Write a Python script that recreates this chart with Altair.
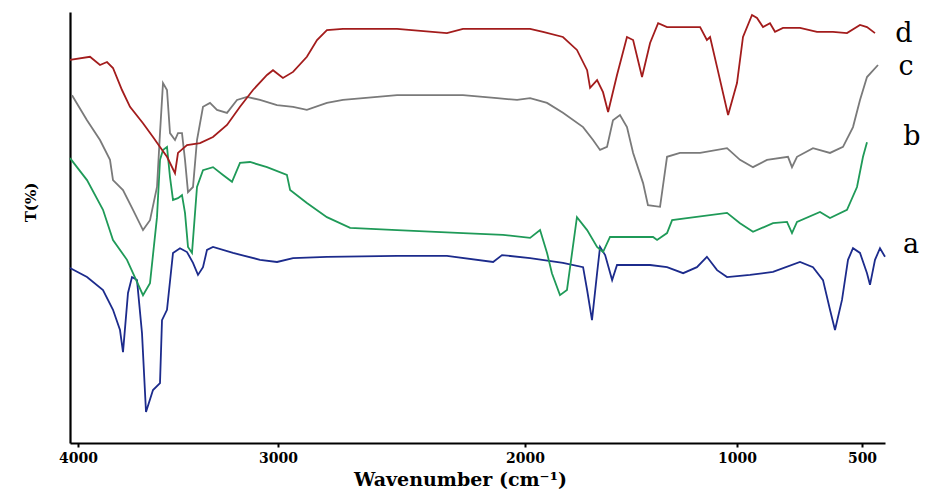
import altair as alt
import pandas as pd

# ---- data (wavenumber in cm-1, transmittance in arbitrary %) ----
wn_d = [4040, 3940, 3890, 3855, 3825, 3780, 3740, 3675, 3625, 3590, 3555, 3515, 3500, 3455, 3390,
        3325, 3255, 3190, 3125, 3055, 3025, 2980, 2939, 2883, 2842, 2802, 2737, 2518, 2316, 2251,
        1976, 1915, 1821, 1755, 1707, 1693, 1660, 1632, 1608, 1566, 1519, 1490, 1448, 1410, 1372,
        1330, 1174, 1142, 1127, 1094, 1042, 1000, 976, 940, 920, 896, 868, 848, 816, 748, 680,
        616, 560, 508, 480, 448]
t_d = [88.9, 89.6, 87.7, 88.4, 87.0, 81.9, 78.0, 74.2, 71.0, 68.7, 66.4, 62.6, 67.3, 69.1, 69.6,
       71.0, 73.8, 78.0, 81.9, 85.4, 86.5, 84.7, 86.1, 89.6, 93.5, 95.8, 96.1, 96.1, 95.1, 96.1,
       96.1, 95.4, 94.2, 91.2, 86.5, 82.4, 84.2, 81.4, 76.8, 85.4, 94.2, 93.5, 84.9, 92.8, 97.4,
       96.5, 96.5, 93.5, 94.2, 87.2, 76.1, 83.5, 94.2, 99.3, 98.6, 96.5, 97.4, 95.4, 96.3, 96.3, 95.4,
       95.4, 95.1, 97.0, 96.5, 95.1]

wn_c = [4030, 3955, 3890, 3840, 3825, 3775, 3725, 3675, 3640, 3605, 3590, 3575, 3555, 3540, 3515,
        3500, 3480, 3465, 3450, 3425, 3405, 3375, 3340, 3305, 3255, 3205, 3155, 3090, 3005, 2939,
        2883, 2802, 2737, 2656, 2518, 2251, 2113, 2032, 1976, 1896, 1821, 1726, 1679, 1646, 1613,
        1585, 1552, 1519, 1490, 1443, 1420, 1363, 1330, 1269, 1174, 1047, 988, 936, 880, 796, 780,
        760, 696, 628, 576, 536, 508, 480, 436]
t_c = [80.7, 74.9, 70.3, 65.7, 61.0, 58.7, 54.1, 49.4, 51.7, 59.4, 71.9, 83.5, 81.9, 71.9, 70.3,
       71.9, 71.9, 65.7, 58.2, 59.4, 70.3, 78.0, 78.9, 77.3, 76.6, 79.6, 80.3, 79.6, 78.4, 78.0,
       77.3, 78.9, 79.6, 80.0, 80.7, 80.7, 80.0, 79.6, 80.0, 78.9, 76.6, 73.3, 70.3, 68.0, 68.7,
       74.9, 76.1, 73.3, 67.3, 60.3, 55.2, 54.8, 66.4, 67.3, 67.3, 68.4, 65.7, 64.0, 65.7, 66.4, 64.0,
       66.4, 68.4, 67.3, 68.7, 73.3, 79.6, 84.9, 87.7]

wn_b = [4040, 3955, 3875, 3825, 3755, 3725, 3675, 3640, 3605, 3590, 3575, 3555, 3540, 3525, 3500,
        3480, 3465, 3450, 3430, 3405, 3375, 3325, 3275, 3230, 3190, 3140, 3055, 2964, 2951, 2883,
        2802, 2708, 2518, 2251, 2089, 1976, 1929, 1896, 1873, 1835, 1802, 1755, 1707, 1660, 1632,
        1599, 1396, 1377, 1330, 1306, 1236, 1047, 988, 936, 856, 800, 780, 760, 668, 628, 560,
        520, 496, 480]
t_b = [66.1, 61.0, 54.1, 47.1, 42.5, 39.4, 34.3, 37.1, 52.4, 65.7, 68.0, 68.7, 61.7, 56.4, 56.8,
       57.5, 53.4, 45.5, 44.1, 59.4, 63.3, 64.0, 62.2, 60.6, 65.0, 65.2, 64.0, 62.2, 58.7, 55.7,
       52.4, 49.9, 49.4, 48.7, 48.3, 47.6, 49.4, 44.1, 39.4, 34.3, 35.5, 52.4, 49.4, 45.5, 44.3,
       47.8, 47.8, 47.1, 48.7, 51.7, 52.2, 53.4, 51.0, 49.0, 51.0, 51.3, 48.7, 51.3, 53.6, 52.2, 54.1,
       59.4, 66.4, 69.8]

wn_a = [4040, 3955, 3875, 3825, 3790, 3775, 3750, 3730, 3705, 3680, 3660, 3625, 3590, 3580, 3555,
        3525, 3490, 3455, 3425, 3400, 3375, 3355, 3325, 3225, 3090, 3005, 2939, 2802, 2518, 2316,
        2129, 2093, 1976, 1821, 1726, 1707, 1684, 1660, 1646, 1622, 1589, 1566, 1410, 1330, 1254,
        1189, 1142, 1094, 1047, 948, 856, 748, 696, 656, 628, 608, 580, 556, 536, 508, 480, 468,
        448, 428, 408]
t_a = [40.6, 38.5, 35.5, 30.9, 26.2, 21.1, 34.8, 38.5, 37.8, 25.5, 7.2, 12.3, 13.9, 28.5, 30.9,
       44.1, 45.2, 44.3, 41.8, 39.0, 40.8, 44.8, 45.5, 44.1, 42.5, 42.0, 42.9, 43.2, 43.4, 43.4,
       42.0, 43.6, 42.9, 41.8, 40.8, 35.5, 28.5, 39.4, 45.5, 43.6, 37.8, 41.3, 41.3, 40.8, 39.4,
       40.8, 43.2, 40.1, 38.5, 39.0, 39.7, 42.0, 40.8, 37.8, 30.9, 26.2, 33.2, 42.5, 45.2, 44.1, 39.4, 36.7,
       42.5, 45.2, 43.2]

series_names = ["a", "b", "c", "d"]
series_colors = ["#1c2b8c", "#1f9a58", "#7a7a7a", "#a31c1c"]

label_text = ["d", "c", "b", "a"]
label_wn = [332, 324, 300, 304]
label_t = [95.0, 87.2, 71.0, 45.9]

tick_values = [4000, 3000, 2000, 1000, 500]

# ---- build table ----
rows = []
for name, wns, ts in [("a", wn_a, t_a), ("b", wn_b, t_b), ("c", wn_c, t_c), ("d", wn_d, t_d)]:
    for w, t in zip(wns, ts):
        rows.append({"series": name, "wn": w, "T": t})
df = pd.DataFrame(rows)
df_lab = pd.DataFrame({"label": label_text, "wn": label_wn, "T": label_t})

SERIF = "DejaVu Serif"

xscale = alt.Scale(domain=[4040, 4000, 3000, 2000, 1000, 500, 408],
                   range=[0, 8, 208, 455, 667, 792, 815], nice=False, zero=False)
yscale = alt.Scale(domain=[0, 100], nice=False, zero=False)

lines = alt.Chart(df).mark_line(strokeWidth=1.8).encode(
    x=alt.X("wn:Q", scale=xscale,
            axis=alt.Axis(values=tick_values, title="Wavenumber (cm⁻¹)", format="d",
                          titleX=390, titlePadding=5)),
    y=alt.Y("T:Q", scale=yscale,
            axis=alt.Axis(title="T(%)", labels=False, ticks=False, titlePadding=32, titleY=190)),
    color=alt.Color("series:N", scale=alt.Scale(domain=series_names, range=series_colors), legend=None),
    detail="series:N",
)

labels = alt.Chart(df_lab).mark_text(font=SERIF, fontSize=27, color="black",
                                      align="center", baseline="middle").encode(
    x=alt.X("wn:Q", scale=xscale),
    y=alt.Y("T:Q", scale=yscale),
    text="label:N",
)

chart = alt.layer(lines, labels).properties(
    width=815, height=431,
    autosize=alt.AutoSizeParams(type="none"),
    padding={"left": 62, "top": 4, "right": 38, "bottom": 58},
).configure_view(stroke=None).configure_axis(
    grid=False,
    domainColor="black", domainWidth=2.2,
    tickColor="black", tickWidth=2, tickSize=4,
    labelFont=SERIF, labelFontWeight="bold", labelFontSize=14, labelColor="black", labelPadding=4,
    titleFont=SERIF, titleFontWeight="bold", titleColor="black",
).configure_axisX(titleFontSize=19).configure_axisY(titleFontSize=15)

chart.save("out.html", embed_options={"renderer": "svg", "actions": False})
